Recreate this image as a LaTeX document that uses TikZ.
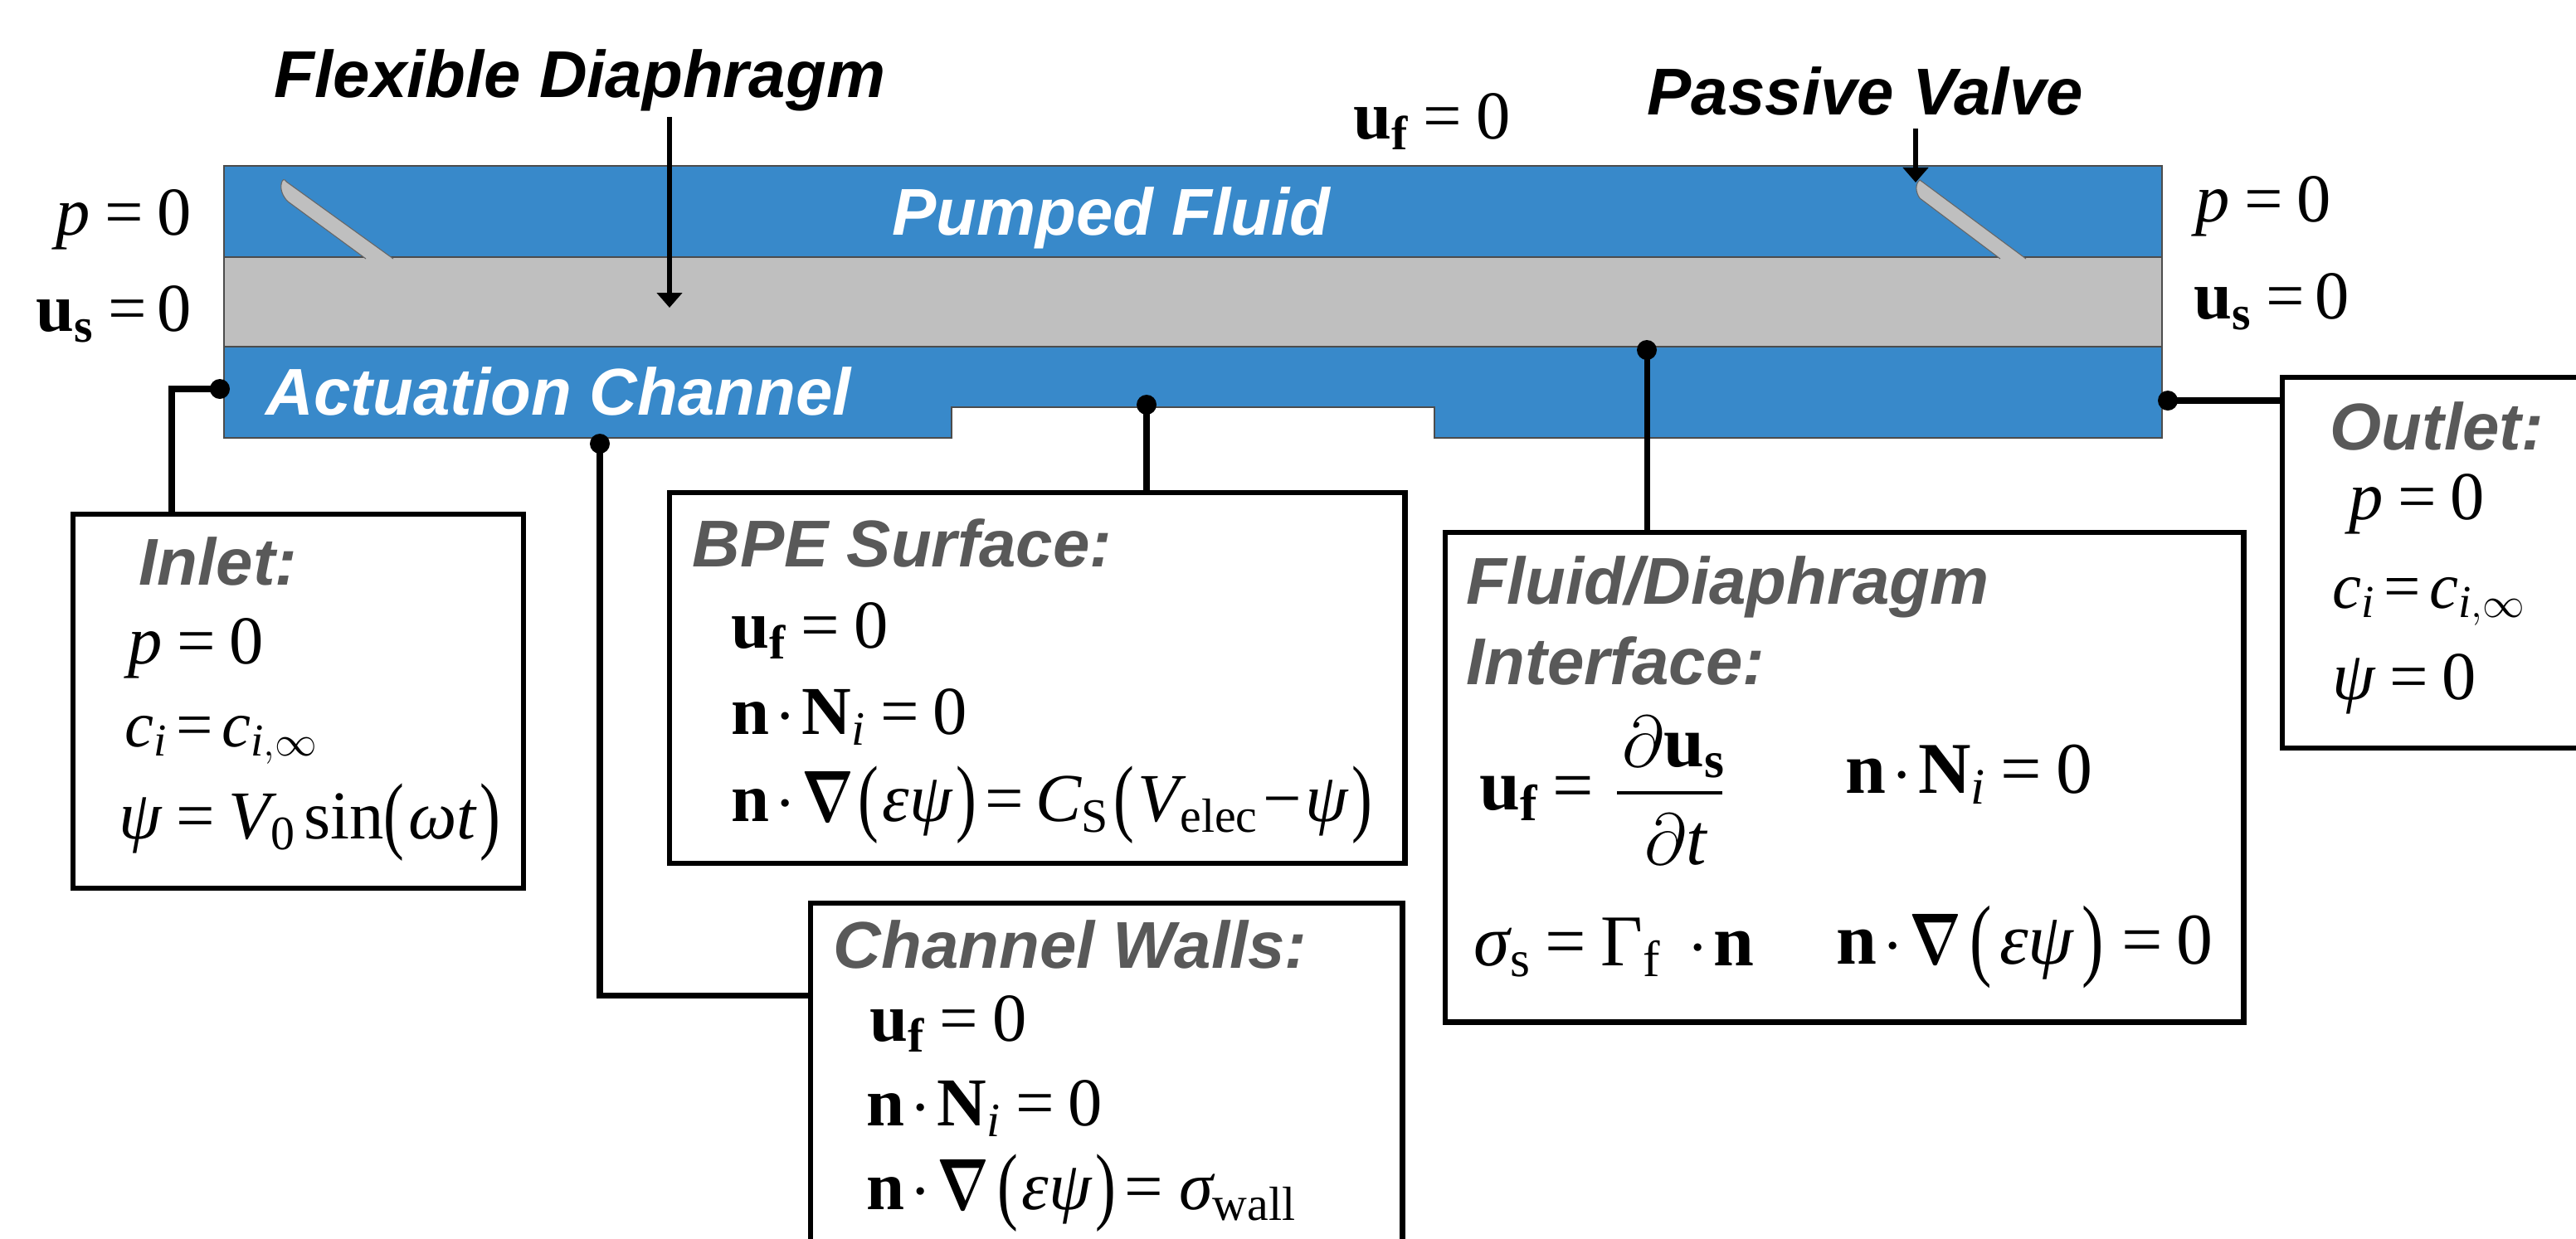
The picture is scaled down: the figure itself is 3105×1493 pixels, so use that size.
\documentclass[tikz,border=0pt]{standalone}
\usepackage{amsmath}
\usepackage{graphicx}
\usepackage{fontspec}
\setmainfont{Liberation Serif}
\newfontfamily\headfont{Liberation Sans}[BoldItalicFont={Liberation Sans Bold Italic}]
\usetikzlibrary{arrows.meta}
\definecolor{fluidblue}{RGB}{56,137,202}
\definecolor{solidgrey}{RGB}{191,191,191}
\definecolor{headgrey}{RGB}{89,89,89}
\newcommand{\vb}[1]{\text{\bfseries #1}}
\newcommand{\vi}[1]{\text{\itshape #1}}
\newcommand{\vr}[1]{\text{\upshape #1}}
\newcommand{\eqs}{\mkern3.5mu\vr{=}\mkern3.5mu}
\newcommand{\tighteqs}{\mkern2.5mu\vr{=}\mkern2.5mu}
\newcommand{\lpar}{\text{\raisebox{-.07em}{\scalebox{.9}[1.25]{(}}}\mkern1mu}
\newcommand{\rpar}{\mkern1mu\text{\raisebox{-.07em}{\scalebox{.9}[1.25]{)}}}}
\newcommand{\ndot}{\mkern1.5mu\vr{$\cdot$}\mkern1.5mu}
\newcommand{\delop}{\text{\scalebox{.75}[1]{$\boldsymbol{\nabla}$}}}
\tikzset{
    heading/.style={anchor=base west, inner sep=0pt, font=\headfont\fontsize{22.7}{27}\selectfont\bfseries\itshape},
    eqn/.style={anchor=base west, inner sep=0pt, font=\fontsize{23.5}{28}\selectfont},
    smalleqn/.style={eqn, font=\fontsize{22.4}{27}\selectfont},
    bigeqn/.style={eqn, font=\fontsize{25}{30}\selectfont},
    condbox/.style={draw, fill=white, line width=1.8pt, anchor=north west, inner sep=0pt, outer sep=0pt},
    wire/.style={line width=2pt},
    pin/.style={circle, fill=black, inner sep=0pt, minimum size=0.24cm},
    pointer/.style={line width=1.7pt, -{Triangle[length=0.18cm, width=0.3cm]}}
}
\begin{document}
\begin{tikzpicture}[x=0.01cm, y=-0.01cm]
        \useasboundingbox (0,0) rectangle (3105,1493);
        \clip (0,0) rectangle (3105,1493);
        % layers of the pump
        \draw[fill=fluidblue, draw=black!70, line width=0.4pt] (270,200) rectangle (2606,310);
        \draw[fill=fluidblue, draw=black!70, line width=0.4pt] (270,418) -- (2606,418) -- (2606,528) -- (1729,528) -- (1729,491) -- (1147,491) -- (1147,528) -- (270,528) -- cycle;
        \draw[fill=solidgrey, draw=black!70, line width=0.5pt] (270,310) rectangle (2606,418);
        % valve flaps
        \filldraw[fill=solidgrey, draw=black!60, line width=0.3pt] (441,312) -- (347,243) .. controls (340,236) and (338,228) .. (339,222) .. controls (340,216) and (343,215) .. (345,219) -- (474,312);
        \filldraw[fill=solidgrey, draw=black!60, line width=0.3pt] (2411,312) -- (2314,239) .. controls (2309,232) and (2308,222) .. (2314,217) -- (2442,312);
        % labels on and around the pump
        \node[heading] (diaphragmLabel) at (330,117) {Flexible Diaphragm};
        \node[heading] (valveLabel) at (1985,138) {Passive Valve};
        \node[heading, text=white] (pumpedLabel) at (1075,283) {Pumped Fluid};
        \node[heading, text=white] (actuationLabel) at (320,500) {Actuation Channel};
        \node[eqn] (topFluid) at (1631,167) {$\vb{u}_{\vb{f}}\eqs\vr{0}$};
        \node[eqn] (leftP) at (67,283) {$\vi{p}\eqs\vr{0}$};
        \node[eqn] (leftU) at (43,399) {$\vb{u}_{\vb{s}}\mkern1mu\tighteqs\vr{0}$};
        \node[eqn] (rightP) at (2646,267) {$\vi{p}\eqs\vr{0}$};
        \node[eqn] (rightU) at (2644,384) {$\vb{u}_{\vb{s}}\mkern1mu\tighteqs\vr{0}$};
        % pointers to the parts
        \coordinate (diaphragmTip) at (807,371);
        \coordinate (valveTip) at (2309,220);
        \draw[pointer] (diaphragmTip |- 0,141) -- (diaphragmTip);
        \draw[pointer] (valveTip |- 0,155) -- (valveTip);
        % boxes
        \node[condbox, minimum width=5.43cm, minimum height=4.51cm] (inletBox) at (88,620) {};
        \node[condbox, minimum width=8.86cm, minimum height=4.47cm] (bpeBox) at (807,594) {};
        \node[condbox, minimum width=7.13cm, minimum height=4.8cm] (wallBox) at (977,1089) {};
        \node[condbox, minimum width=9.62cm, minimum height=5.9cm] (fluidBox) at (1742,642) {};
        \node[condbox, minimum width=4cm, minimum height=4.47cm] (outletBox) at (2751,455) {};
        % pins and wires
        \node[pin] (inletPin) at (265,469) {};
        \node[pin] (wallPin) at (723,535) {};
        \node[pin] (bpePin) at (1382,488) {};
        \node[pin] (fluidPin) at (1985,422) {};
        \node[pin] (outletPin) at (2613,483) {};
        \draw[wire] (inletPin.center) -| (207,0 |- inletBox.north);
        \draw[wire] (wallPin.center) |- (wallBox.west |- 0,1200);
        \draw[wire] (bpePin.center) -- (bpePin |- bpeBox.north);
        \draw[wire] (fluidPin.center) -- (fluidPin |- fluidBox.north);
        \draw[wire] (outletPin.center) -- (outletPin -| outletBox.west);
        % inlet
        \node[heading, text=headgrey] (inletHead) at (167,705) {Inlet:};
        \node[eqn] (inletP) at (154,800) {$\vi{p}\eqs\vr{0}$};
        \node[smalleqn] (inletC) at (150,900) {$\vi{c}_{\vi{i}}\tighteqs\vi{c}_{\vi{i},\infty}$};
        \node[eqn] (inletPsi) at (143,1011) {$\vi{ψ}\eqs\vi{V}_{\vr{0}}\mkern2mu\vr{sin}\lpar\vi{ωt}\rpar$};
        % bpe surface
        \node[heading, text=headgrey] (bpeHead) at (834,683) {BPE Surface:};
        \node[eqn] (bpeU) at (881,781) {$\vb{u}_{\vb{f}}\eqs\vr{0}$};
        \node[eqn] (bpeN) at (881,885) {$\vb{n}\ndot\vb{N}_{\vi{i}}\eqs\vr{0}$};
        \node[eqn] (bpePsi) at (881,990) {$\vb{n}\ndot\delop\mkern1mu\lpar\vi{εψ}\rpar\mkern2mu\vr{=}\mkern3mu\vi{C}_{\vr{S}}\mkern1mu\lpar\vi{V}_{\vr{elec}}\mkern1mu\vr{−}\mkern1mu\vi{ψ}\rpar$};
        % channel walls
        \node[heading, text=headgrey] (wallHead) at (1004,1167) {Channel Walls:};
        \node[eqn] (wallU) at (1048,1255) {$\vb{u}_{\vb{f}}\eqs\vr{0}$};
        \node[eqn] (wallN) at (1044,1357) {$\vb{n}\ndot\vb{N}_{\vi{i}}\eqs\vr{0}$};
        \node[eqn] (wallPsi) at (1044,1458) {$\vb{n}\ndot\delop\mkern2mu\lpar\vi{εψ}\rpar\mkern2mu\vr{=}\mkern4mu\vi{σ}_{\vr{wall}}$};
        % fluid and diaphragm
        \node[heading, text=headgrey] (fluidHead) at (1767,728) {Fluid/Diaphragm};
        \node[heading, text=headgrey] (interfaceHead) at (1767,825) {Interface:};
        \node[bigeqn] (fluidU) at (1783,976) {$\vb{u}_{\vb{f}}\eqs$};
        \node[bigeqn] (fluidDu) at (1955,924) {$\partial\vb{u}_{\vb{s}}$};
        \node[bigeqn] (fluidDt) at (1982,1042) {$\partial\vi{t}$};
        \draw[line width=1.2pt] (1949,956) -- (2076,956);
        \node[bigeqn] (fluidN) at (2224,956) {$\vb{n}\ndot\vb{N}_{\vi{i}}\eqs\vr{0}$};
        \node[bigeqn] (fluidS) at (1776,1164) {$\vi{σ}_{\vr{s}}\eqs\vr{Γ}_{\vr{f}}\,\mkern2mu\ndot\vb{n}$};
        \node[bigeqn] (fluidPsi) at (2213,1162) {$\vb{n}\ndot\delop\mkern2mu\lpar\mkern1mu\vi{εψ}\mkern1mu\rpar\mkern1mu\eqs\vr{0}$};
        % outlet
        \node[heading, text=headgrey] (outletHead) at (2808,542) {Outlet:};
        \node[eqn] (outletP) at (2831,626) {$\vi{p}\eqs\vr{0}$};
        \node[smalleqn] (outletC) at (2811,733) {$\vi{c}_{\vi{i}}\tighteqs\vi{c}_{\vi{i},\infty}$};
        \node[eqn] (outletPsi) at (2811,843) {$\vi{ψ}\eqs\vr{0}$};
    \end{tikzpicture}
\end{document}
